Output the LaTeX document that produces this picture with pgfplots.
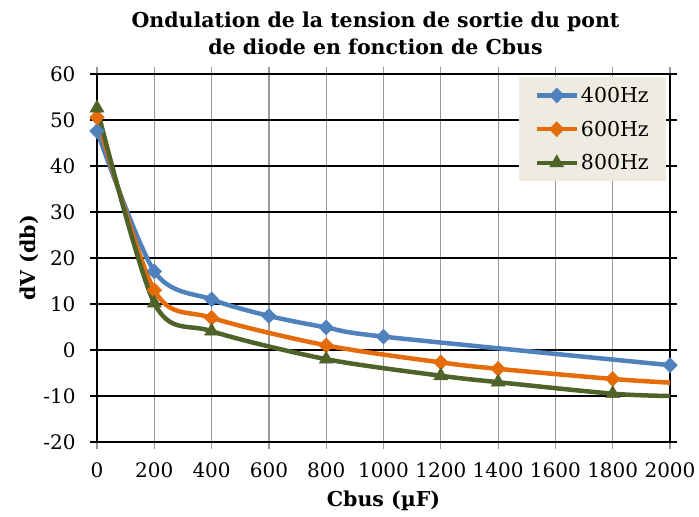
\documentclass[border=0pt]{standalone}
\usepackage{pgfplots}
\pgfplotsset{compat=1.18}
\usepackage{fontspec}
\setmainfont{DejaVu Serif}
\definecolor{cblue}{HTML}{4F81BD}
\definecolor{corange}{HTML}{E46C0A}
\definecolor{cgreen}{HTML}{4F6228}
\definecolor{legbg}{HTML}{EEECE1}
\begin{document}
\begin{tikzpicture}
\begin{axis}[
  name=ax,
  scale only axis,
  width=573bp, height=368bp,
  xmin=0, xmax=2000, ymin=-20, ymax=60,
  xtick={0,200,...,2000}, ytick={-20,-10,...,60},
  /pgf/number format/assume math mode=true,
  /pgf/number format/1000 sep={},
  tick label style={font=\fontsize{20bp}{23bp}\selectfont},
  yticklabel style={xshift=-11bp},
  xticklabel style={yshift=-10bp},
  xmajorgrids, ymajorgrids,
  x grid style={gray!80, line width=1.2bp},
  y grid style={black, line width=1.2bp},
  axis line style={black, line width=1.2bp},
  tick align=outside,
  major tick length=7bp,
  xtick style={gray!80, line width=1.2bp},
  ytick style={black, line width=1.2bp},
  clip=false,
  title={Ondulation de la tension de sortie du pont\\de diode en fonction de Cbus},
  title style={font=\bfseries\fontsize{20.5bp}{26.5bp}\selectfont, align=center, yshift=10bp, xshift=-8bp},
  xlabel={\bfseries Cbus (µF)},
  ylabel={\bfseries dV (db)},
  xlabel style={yshift=-6bp},
  ylabel style={yshift=-2bp},
  label style={font=\fontsize{20.5bp}{24bp}\selectfont},
  legend style={at={(rel axis cs:0.993,0.992)}, anchor=north east, fill=legbg, draw=none,
    font=\fontsize{20.5bp}{24bp}\selectfont, row sep=13bp, inner xsep=15bp, inner ysep=8bp},
  legend cell align=left,
  legend image code/.code={
    \draw[#1, mark=none] (0bp,0bp) -- (40bp,0bp);
    \draw[#1, only marks] plot coordinates {(20bp,0bp)};
  },
  every axis plot/.append style={line width=4.5bp, smooth, tension=0.5},
]
\addplot[cblue, mark=diamond*, mark size=7.5bp, mark options={line width=0.5bp, xscale=1.3}] coordinates {
(0,47.6) (200,17.1) (400,11) (600,7.4) (800,4.9) (1000,2.9) (2000,-3.3)};
\addlegendentry{400Hz}
\addplot[corange, mark=diamond*, mark size=7.5bp, mark options={line width=0.5bp, xscale=1.3}, mark indices={1,2,3,4,5,6,7}] coordinates {
(0,50.6) (200,13) (400,7) (800,1) (1200,-2.7) (1400,-4.1) (1800,-6.3) (2000,-7.1)};
\addlegendentry{600Hz}
\addplot[cgreen, mark=triangle*, mark size=8bp, mark options={line width=0.5bp}, mark indices={1,2,3,4,5,6,7}] coordinates {
(0,52.6) (200,10.2) (400,4.1) (800,-2) (1200,-5.6) (1400,-7) (1800,-9.5) (2000,-10)};
\addlegendentry{800Hz}
\end{axis}
\path ([xshift=-97bp,yshift=-75bp]ax.south west) rectangle ([xshift=29bp,yshift=74bp]ax.north east);
\end{tikzpicture}
\end{document}
